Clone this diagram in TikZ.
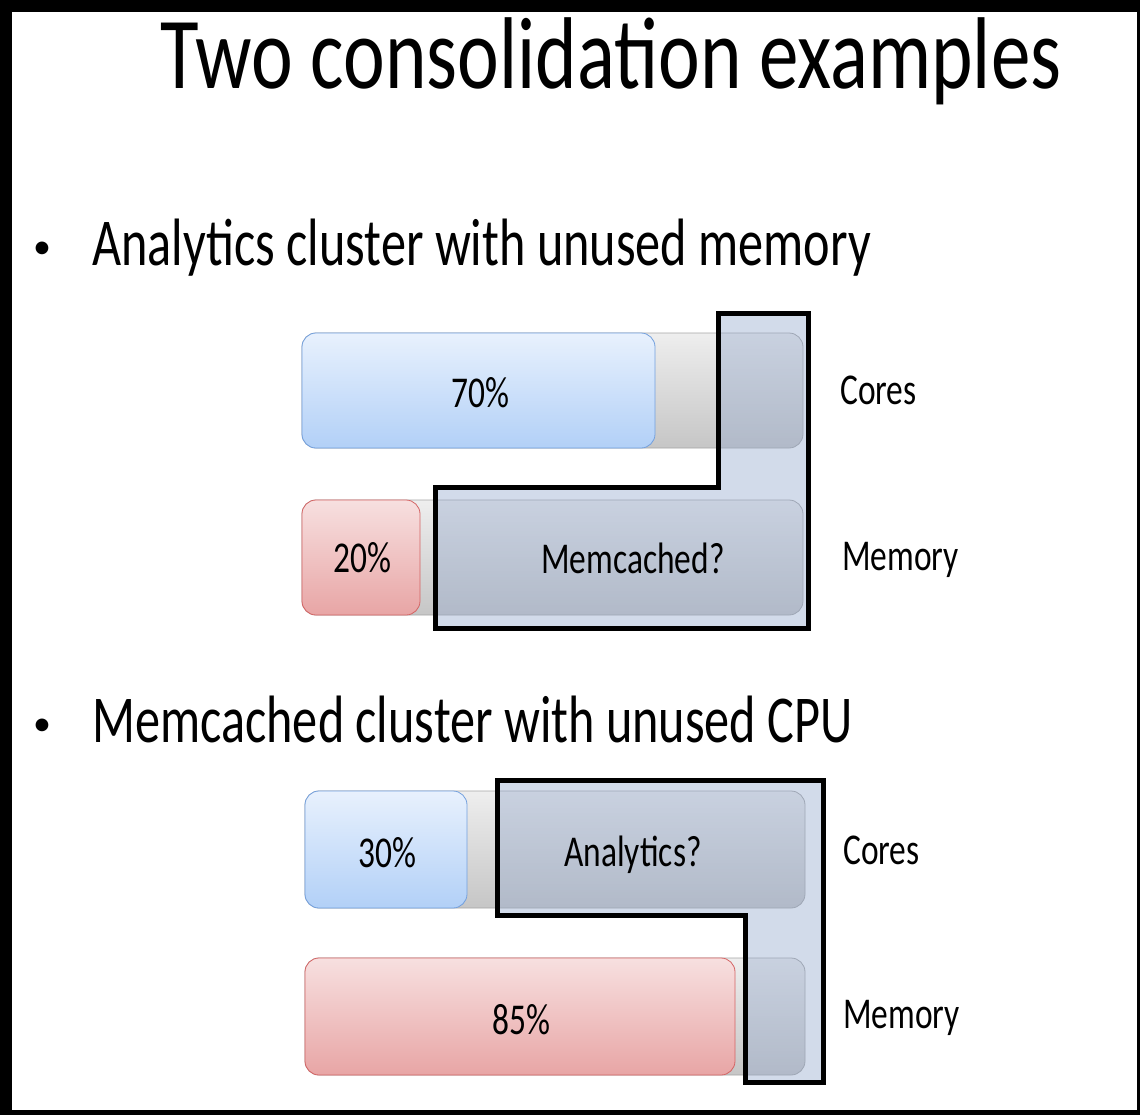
\documentclass[tikz,border=0pt]{standalone}
\usepackage{fontspec}
\setmainfont{Carlito}
\usetikzlibrary{positioning}
\definecolor{trackTop}{RGB}{238,238,238}
\definecolor{trackBot}{RGB}{198,198,198}
\definecolor{trackLine}{RGB}{165,165,165}
\definecolor{cpuTop}{RGB}{232,241,253}
\definecolor{cpuBot}{RGB}{178,208,247}
\definecolor{cpuLine}{RGB}{115,160,222}
\definecolor{memTop}{RGB}{247,224,224}
\definecolor{memBot}{RGB}{232,165,165}
\definecolor{memLine}{RGB}{212,100,100}
\definecolor{spareFill}{RGB}{150,170,205}
\tikzset{track/.style = {draw=trackLine, rounded corners=7pt, top color=trackTop, bottom color=trackBot},
         cpu/.style   = {draw=cpuLine, rounded corners=7pt, top color=cpuTop, bottom color=cpuBot},
         mem/.style   = {draw=memLine, rounded corners=7pt, top color=memTop, bottom color=memBot},
         spare/.style = {draw=black, line width=2.5pt, fill=spareFill, fill opacity=0.42},
         pct/.style   = {font=\fontsize{22}{26}\selectfont, xscale=0.76, inner sep=0pt},
         res/.style   = {pct, anchor=west},
         bullet/.style= {font=\fontsize{33.5}{40}\selectfont, xscale=0.75, inner sep=0pt, anchor=base west},
         dot/.style   = {font=\fontsize{18}{22}\selectfont, inner sep=0pt}}

\begin{document}
\begin{tikzpicture}[x=0.5pt,y=-0.5pt]
                    % frame
                    \fill [black] (0,0) rectangle (1140,1115);
                    \fill [white] (12,12) rectangle (1137,1110);
                    \useasboundingbox (0,0) rectangle (1140,1115);

                    \node [font=\fontsize{51}{60}\selectfont, xscale=0.775, inner sep=0pt, anchor=base] (title) at (611,88) {Two consolidation examples};

                    % analytics cluster
                    \begin{scope}
                        \node [dot] (dotA) at (42,250) {•};
                        \node [bullet] (headA) at (92,265) {Analytics cluster with unused memory};

                        \path [track] (302,333) rectangle (803,448);
                        \path [cpu]   (302,333) rectangle (655,448);
                        \path [track] (302,500) rectangle (803,615);
                        \path [mem]   (302,500) rectangle (420,615);

                        \draw [spare] (718,313) -- (808,313) -- (808,628) -- (435,628) -- (435,487) -- (718,487) -- cycle;

                        \node [pct] (coresA) at (480,393) {70\%};
                        \node [pct] (memA)   at (362,558) {20\%};
                        \node [pct] (extraA) at (633,558) {Memcached?};
                        \node [res] (labCA)  at (840,390) {Cores};
                        \node [res] (labMA)  at (842,560) {Memory};
                    \end{scope}

                    % memcached cluster
                    \begin{scope}
                        \node [dot] (dotB) at (42,727) {•};
                        \node [bullet] (headB) at (92,742) {Memcached cluster with unused CPU};

                        \path [track] (305,791) rectangle (805,908);
                        \path [cpu]   (305,791) rectangle (467,908);
                        \path [track] (305,958) rectangle (805,1075);
                        \path [mem]   (305,958) rectangle (735,1075);

                        \draw [spare] (497,780) -- (823,780) -- (823,1082) -- (745,1082) -- (745,915) -- (497,915) -- cycle;

                        \node [pct] (coresB) at (387,853)  {30\%};
                        \node [pct] (extraB) at (633,855)  {Analytics?};
                        \node [pct] (memB)   at (521,1020) {85\%};
                        \node [res] (labCB)  at (843,850)  {Cores};
                        \node [res] (labMB)  at (843,1018) {Memory};
                    \end{scope}
                \end{tikzpicture}
\end{document}
